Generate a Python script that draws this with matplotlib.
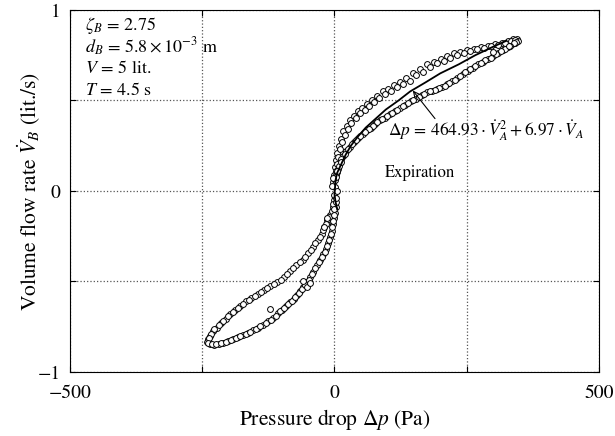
import matplotlib
matplotlib.use('Agg')
import matplotlib.pyplot as plt

plt.rcParams['font.family'] = ['STIXGeneral', 'DejaVu Serif']
plt.rcParams['mathtext.fontset'] = 'stix'

# measured loop, upper half (two branches)
up_a_dp = [-2, -1, 1, 3, 5, 8, 12, 17, 23, 29, 36, 44, 52, 61, 70, 80, 91, 102, 113, 124,
           136, 149, 162, 175, 188, 201, 213, 225, 238, 251, 264, 277, 290, 303, 316, 328, 338, 345]
up_a_v = [0.05, 0.09, 0.13, 0.17, 0.21, 0.25, 0.29, 0.33, 0.36, 0.39, 0.415, 0.44, 0.46, 0.48,
          0.50, 0.525, 0.55, 0.565, 0.585, 0.60, 0.625, 0.65, 0.675, 0.70, 0.715, 0.73, 0.745,
          0.76, 0.77, 0.78, 0.785, 0.795, 0.80, 0.81, 0.82, 0.83, 0.838, 0.84]
up_b_dp = [346, 342, 336, 328, 319, 310, 300, 290, 281, 271, 262, 252, 242, 232, 222, 213, 203,
           194, 185, 175, 165, 154, 144, 134, 124, 114, 105, 95, 86, 77, 69, 61, 53, 45, 37, 29,
           22, 16, 10, 6, 3, 1]
up_b_v = [0.83, 0.82, 0.81, 0.795, 0.78, 0.765, 0.745, 0.73, 0.715, 0.70, 0.68, 0.665, 0.645,
          0.625, 0.605, 0.59, 0.575, 0.565, 0.555, 0.545, 0.53, 0.51, 0.495, 0.475, 0.46, 0.44,
          0.425, 0.405, 0.39, 0.37, 0.35, 0.335, 0.315, 0.295, 0.27, 0.245, 0.22, 0.195, 0.155,
          0.12, 0.09, 0.06]
# second cycle, upper half
up2_a_dp = [0, 2, 4, 7, 10, 14, 20, 26, 32, 40, 48, 57, 66, 75, 85, 96, 107, 118, 130, 142,
            155, 168, 181, 194, 207, 219, 232, 245, 257, 270, 283, 296, 309, 322, 333, 341]
up2_a_v = [0.07, 0.11, 0.15, 0.19, 0.23, 0.27, 0.31, 0.345, 0.375, 0.405, 0.43, 0.45, 0.47,
           0.49, 0.515, 0.535, 0.555, 0.575, 0.59, 0.61, 0.64, 0.66, 0.685, 0.705, 0.72, 0.735,
           0.75, 0.765, 0.775, 0.783, 0.79, 0.80, 0.806, 0.815, 0.826, 0.835]
up2_b_dp = [344, 339, 332, 323, 314, 305, 295, 285, 276, 266, 257, 247, 237, 227, 217, 208, 198,
            190, 180, 170, 159, 149, 139, 129, 119, 109, 100, 90, 81, 73, 65, 57, 49, 41, 33,
            25, 19, 13, 8, 4, 2]
up2_b_v = [0.825, 0.815, 0.80, 0.787, 0.772, 0.755, 0.737, 0.722, 0.707, 0.69, 0.672, 0.655,
           0.635, 0.615, 0.597, 0.582, 0.57, 0.56, 0.55, 0.537, 0.52, 0.502, 0.485, 0.467,
           0.45, 0.432, 0.415, 0.397, 0.38, 0.36, 0.342, 0.325, 0.305, 0.283, 0.258, 0.232,
           0.207, 0.175, 0.137, 0.105, 0.075]

# lower half
lo_c_dp = [-1, -3, -8, -14, -19, -24, -32, -41, -50, -60, -72, -84, -96, -109, -121, -133, -145,
           -157, -168, -178, -188, -197, -206, -215, -223, -230, -235, -239, -241]
lo_c_v = [-0.05, -0.09, -0.13, -0.16, -0.2, -0.235, -0.27, -0.31, -0.345, -0.38, -0.41, -0.44,
          -0.475, -0.505, -0.525, -0.548, -0.57, -0.59, -0.61, -0.635, -0.66, -0.68, -0.705,
          -0.73, -0.755, -0.775, -0.80, -0.82, -0.835]
lo_d_dp = [-236, -228, -219, -210, -201, -192, -183, -173, -164, -154, -145, -135, -125, -116,
           -107, -99, -91, -84, -77, -71, -65, -59, -53, -46, -40, -33, -27, -21, -16, -12, -8,
           -5, -3, -1, 1, 2]
lo_d_v = [-0.845, -0.85, -0.845, -0.84, -0.83, -0.815, -0.805, -0.795, -0.785, -0.77, -0.755,
          -0.74, -0.72, -0.70, -0.675, -0.655, -0.635, -0.615, -0.595, -0.575, -0.555, -0.53,
          -0.505, -0.475, -0.445, -0.41, -0.38, -0.35, -0.32, -0.29, -0.255, -0.22, -0.18,
          -0.15, -0.12, -0.09]
# second cycle, lower half
lo2_c_dp = [-2, -5, -11, -16, -21, -28, -36, -45, -55, -66, -78, -90, -102, -115, -127, -139,
            -151, -162, -173, -183, -192, -201, -210, -219, -227, -233, -238]
lo2_c_v = [-0.07, -0.11, -0.145, -0.18, -0.218, -0.252, -0.29, -0.328, -0.362, -0.395, -0.425,
           -0.458, -0.49, -0.515, -0.537, -0.56, -0.58, -0.6, -0.622, -0.648, -0.67, -0.692,
           -0.717, -0.742, -0.765, -0.788, -0.81]
lo2_d_dp = [-240, -232, -224, -214, -205, -196, -187, -178, -168, -159, -149, -140, -130, -120,
            -111, -103, -95, -87, -80, -74, -68, -62, -56, -49, -43, -36, -30, -24, -18, -14,
            -10, -6, -4, -2, 0]
lo2_d_v = [-0.84, -0.848, -0.848, -0.842, -0.835, -0.822, -0.81, -0.8, -0.79, -0.778, -0.762,
           -0.748, -0.73, -0.71, -0.688, -0.665, -0.645, -0.625, -0.605, -0.585, -0.565, -0.542,
           -0.518, -0.49, -0.46, -0.428, -0.395, -0.365, -0.335, -0.305, -0.272, -0.238, -0.2,
           -0.165, -0.135]

# scattered points near origin and stray ones
extra_dp = [0, 2, -1, 1, 4, -3, 5, 3, -4, -122, -60, -52, -46, -14, -20, 12, 300, 330]
extra_v = [-0.1, -0.06, -0.02, 0.02, 0.0, 0.07, 0.11, -0.04, 0.03, -0.65, -0.5, -0.53, -0.51,
           -0.15, -0.2, 0.16, 0.77, 0.80]

# fitted curve (expiration)
fit_v = [-0.10, -0.06, -0.02, 0.02, 0.06, 0.10, 0.15, 0.20, 0.25, 0.30, 0.35, 0.40, 0.45, 0.50,
         0.55, 0.60, 0.65, 0.70, 0.75, 0.80, 0.83]
fit_dp = [5, 2, 0, 1, 2, 5, 13, 21, 31, 44, 59, 78, 97, 121, 143, 172, 200, 235, 266, 302, 325]

xticks = [-500, -250, 0, 250, 500]
xticklabels = ['\u2212500', '', '0', '', '500']
yticks = [-1, -0.5, 0, 0.5, 1]
yticklabels = ['\u22121', '', '0', '', '1']

fig = plt.figure(figsize=(6.15, 4.36), dpi=100)
ax = fig.add_axes([70 / 615, 64 / 436, 529 / 615, 362 / 436])

mk = dict(ls='none', marker='o', ms=4.2, mfc='white', mec='black', mew=0.7)
for xs, ys in [(up_a_dp, up_a_v), (up_b_dp, up_b_v), (up2_a_dp, up2_a_v), (up2_b_dp, up2_b_v),
               (lo_c_dp, lo_c_v), (lo_d_dp, lo_d_v), (lo2_c_dp, lo2_c_v), (lo2_d_dp, lo2_d_v),
               (extra_dp, extra_v)]:
    ax.plot(xs, ys, **mk)
ax.plot(fit_dp, fit_v, color='black', lw=1.3)

ax.set_xlim(-500, 500)
ax.set_ylim(-1, 1)
ax.set_xticks(xticks)
ax.set_xticklabels(xticklabels)
ax.set_yticks(yticks)
ax.set_yticklabels(yticklabels)
ax.tick_params(direction='in', top=True, right=True, labelsize=14, length=4)
ax.tick_params(axis='x', pad=9)
ax.tick_params(axis='y', pad=7)
ax.grid(True, color='#555555', ls=':', lw=0.9)

ax.set_xlabel(r'Pressure drop $\Delta p$ (Pa)', fontsize=15.5, labelpad=4)
ax.set_ylabel(r'Volume flow rate $\dot{V}_B$ (lit./s)', fontsize=15.5, labelpad=-4)

info = [r'$\zeta_B\,=\,2.75$', r'$d_B\,=\,5.8\times10^{-3}$ m', r'$V\,=\,5$ lit.', r'$T\,=\,4.5$ s']
for i, s in enumerate(info):
    ax.text(-472, 0.915 - i * 0.12, s, fontsize=13, va='center', ha='left')

ax.annotate('', xy=(148, 0.555), xytext=(190, 0.40),
            arrowprops=dict(arrowstyle='->', color='black', lw=0.8, shrinkA=0, shrinkB=0))
ax.text(102, 0.335, r'$\Delta p\,=\,464.93\cdot\dot{V}_A^2+6.97\cdot\dot{V}_A$',
        fontsize=12.5, va='center', ha='left')
ax.text(95, 0.10, 'Expiration', fontsize=12, va='center', ha='left')

fig.savefig('out.png', dpi=100)
